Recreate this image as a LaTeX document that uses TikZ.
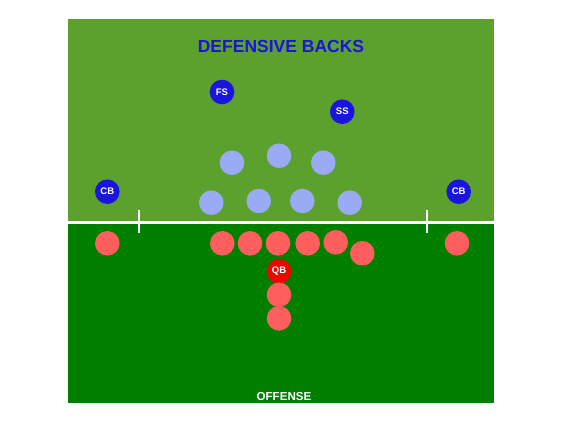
\documentclass[tikz,border=0pt]{standalone}
\usepackage{fontspec}
\setmainfont{Liberation Sans}
\usetikzlibrary{positioning}
\definecolor{fieldtop}{HTML}{5CA02E}
\definecolor{fieldbot}{HTML}{007F00}
\definecolor{dbblue}{HTML}{1A14E0}
\definecolor{dlblue}{HTML}{9AABF6}
\definecolor{offred}{HTML}{FF5E5E}
\definecolor{qbred}{HTML}{EE0505}

\begin{document}
\begin{tikzpicture}[x=1pt,y=-1pt,node distance=23.5pt,on grid,
		back/.style={circle,fill=dbblue,text=white,inner sep=0pt,minimum size=24.6pt,font=\bfseries\fontsize{9.5}{10}\selectfont},
		front/.style={circle,fill=dlblue,inner sep=0pt,minimum size=24.6pt},
		off/.style={circle,fill=offred,inner sep=0pt,minimum size=24.6pt}]
		\useasboundingbox[fill=white] (0,0) rectangle (568,426);
		\fill[fieldtop] (68,19) rectangle (494,222.5);
		\fill[fieldbot] (68,222.5) rectangle (494,403);
		\draw[white,line width=2.6pt] (68,222.5) -- (494,222.5);
		\draw[white,line width=1.8pt] (139.3,210) -- (139.3,233);
		\draw[white,line width=1.8pt] (426.7,210) -- (426.7,233);
		
		\node (title) at (281,46) {\textcolor{dbblue}{\bfseries\fontsize{17.5}{18}\selectfont DEFENSIVE BACKS}};
		\node (offense) at (284,396.5) {\textcolor{white}{\bfseries\fontsize{11.6}{12}\selectfont OFFENSE}};
		
		% defensive backs
		\node[back] (fs)  at (222,92)     {FS};
		\node[back] (ss)  at (342.3,111.7) {SS};
		\node[back] (cbl) at (107.3,191.7) {CB};
		\node[back] (cbr) at (458.7,191.7) {CB};
		
		% front seven
		\node[front] (d1) at (232,162.7)   {};
		\node[front] (d2) at (279,155.7)   {};
		\node[front] (d3) at (323.3,162.7) {};
		\node[front] (d4) at (211.3,202.7) {};
		\node[front] (d5) at (258.7,201)   {};
		\node[front] (d6) at (302.3,201)   {};
		\node[front] (d7) at (349.7,202.7) {};
		
		% offense
		\node[off] (wrl) at (107.3,243.3) {};
		\node[off] (o1)  at (222.3,243.3) {};
		\node[off] (o2)  at (250,243.3)   {};
		\node[off] (o3)  at (278,243.3)   {};
		\node[off] (o4)  at (307.7,243.3) {};
		\node[off] (o5)  at (335.7,242.3) {};
		\node[off] (te)  at (362.3,253.3) {};
		\node[off] (wrr) at (457,243.3)   {};
		\node[back,fill=qbred] (qb) at (279,271.3) {QB};
		\node[off] (rb1) [below=of qb]  {};
		\node[off] (rb2) [below=of rb1] {};
\end{tikzpicture}
\end{document}
